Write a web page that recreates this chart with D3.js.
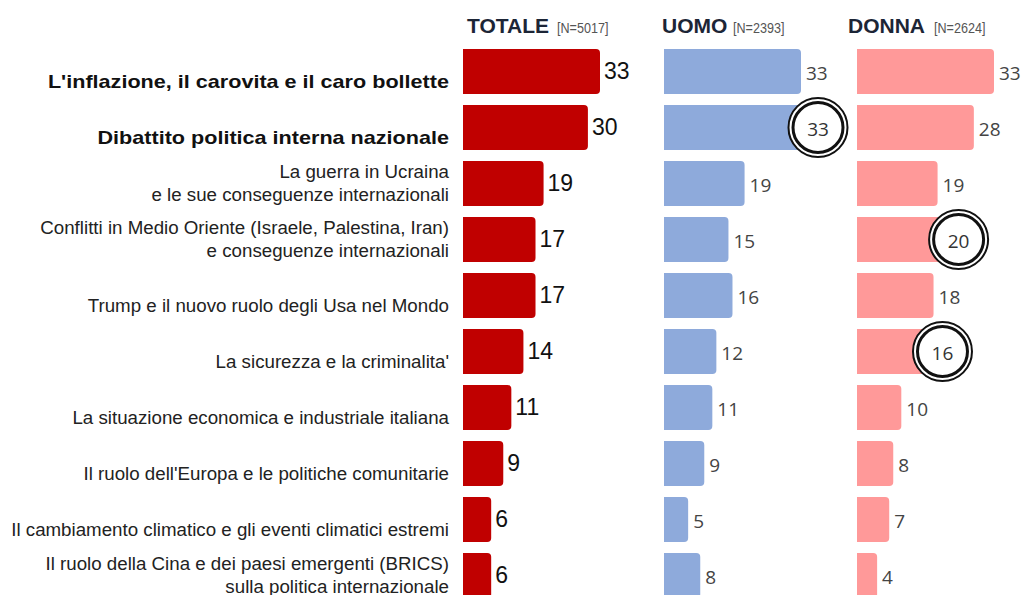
<!DOCTYPE html>
<html><head><meta charset="utf-8">
<script src="https://cdn.jsdelivr.net/npm/d3@7"></script>
<style>body{margin:0;background:#fff}svg{display:block}</style>
</head><body>
<svg id="c" width="1021" height="595"></svg>
<script>
const categories = [
  ["L'inflazione, il carovita e il caro bollette"],
  ["Dibattito politica interna nazionale"],
  ["La guerra in Ucraina", "e le sue conseguenze internazionali"],
  ["Conflitti in Medio Oriente (Israele, Palestina, Iran)", "e conseguenze internazionali"],
  ["Trump e il nuovo ruolo degli Usa nel Mondo"],
  ["La sicurezza e la criminalita'"],
  ["La situazione economica e industriale italiana"],
  ["Il ruolo dell'Europa e le politiche comunitarie"],
  ["Il cambiamento climatico e gli eventi climatici estremi"],
  ["Il ruolo della Cina e dei paesi emergenti (BRICS)", "sulla politica internazionale"]
];
const boldRows = [0, 1];
const totale = [33, 30, 19, 17, 17, 14, 11, 9, 6, 6];
const uomo   = [33, 33, 19, 15, 16, 12, 11, 9, 5, 8];
const donna  = [33, 28, 19, 20, 18, 16, 10, 8, 7, 4];
const headers = [
  {title: "TOTALE", n: "[N=5017]"},
  {title: "UOMO", n: "[N=2393]"},
  {title: "DONNA", n: "[N=2624]"}
];
const circled = {uomo: [1], donna: [3, 5]};

const svg = d3.select("#c");
const y = d3.scaleBand().domain(d3.range(categories.length)).range([49, 598]).paddingInner(11 / 56).paddingOuter(0);
const x = d3.scaleLinear().domain([0, 33]).range([4, 137]);

const series = [
  {key: "totale", vals: totale, x0: 463, color: "#c00000", hx: 467, nx: 557},
  {key: "uomo", vals: uomo, x0: 664, color: "#8eaadb", hx: 662, nx: 733},
  {key: "donna", vals: donna, x0: 857, color: "#ff9999", hx: 848, nx: 934}
];

function barPath(x0, y0, w, h, r) {
  r = Math.min(r, w);
  return `M${x0},${y0}H${x0 + w - r}Q${x0 + w},${y0} ${x0 + w},${y0 + r}V${y0 + h - r}Q${x0 + w},${y0 + h} ${x0 + w - r},${y0 + h}H${x0}Z`;
}

// headers
series.forEach((s, i) => {
  svg.append("text").attr("x", s.hx).attr("y", 33)
    .attr("font-family", "Liberation Sans, Arial, sans-serif").attr("font-weight", "bold")
    .attr("font-size", 21).attr("fill", "#1c2536").text(headers[i].title);
  svg.append("g").attr("transform", `translate(${s.nx},33) scale(0.9,1.08)`)
    .append("text").attr("x", 0).attr("y", 0)
    .attr("font-family", "Liberation Sans, Arial, sans-serif")
    .attr("font-size", 14).attr("fill", "#555").text(headers[i].n);
});

// category labels
categories.forEach((lines, i) => {
  const cy = y(i) + y.bandwidth() / 2;
  const bold = boldRows.includes(i);
  const g = svg.append("g").attr("transform", `translate(449,0) scale(${bold ? 1.2 : 1.07},1)`);
  const t = g.append("text").attr("text-anchor", "end")
    .attr("font-family", "Liberation Sans, Arial, sans-serif")
    .attr("font-size", bold ? 18 : 17.5)
    .attr("font-weight", bold ? "bold" : "normal")
    .attr("fill", bold ? "#111" : "#222");
  if (lines.length === 1) {
    t.append("tspan").attr("x", 0).attr("y", cy + 10).attr("dy", "0.35em").text(lines[0]);
  } else {
    lines.forEach((l, k) => {
      t.append("tspan").attr("x", 0).attr("y", cy - 11.5 + k * 23).attr("dy", "0.35em").text(l);
    });
  }
});

// bars and values
series.forEach(s => {
  const g = svg.append("g");
  s.vals.forEach((v, i) => {
    const y0 = y(i), h = y.bandwidth(), cy = y0 + h / 2;
    const w = x(v);
    g.append("path").attr("d", barPath(s.x0, y0, w, h, 4)).attr("fill", s.color);
    const isTot = s.key === "totale";
    const lx = s.x0 + w + (isTot ? 4 : 5);
    const lbl = String(v);
    const circ = (circled[s.key] || []).includes(i);
    if (circ) {
      const cx = lx + 12;
      g.append("circle").attr("cx", cx).attr("cy", cy).attr("r", 29.5)
        .attr("fill", "#fff").attr("stroke", "#111").attr("stroke-width", 2);
      g.append("circle").attr("cx", cx).attr("cy", cy).attr("r", 25)
        .attr("fill", "#fff").attr("stroke", "#111").attr("stroke-width", 3);
      g.append("text").attr("x", cx).attr("y", cy + 2).attr("dy", "0.35em")
        .attr("text-anchor", "middle")
        .attr("font-family", "Open Sans, sans-serif").attr("font-size", 19)
        .attr("fill", "#333").text(lbl);
    } else {
      g.append("text").attr("x", lx).attr("y", isTot ? cy - 1 : cy + 2).attr("dy", "0.35em")
        .attr("font-family", isTot ? "Liberation Sans, Arial, sans-serif" : "Open Sans, sans-serif")
        .attr("font-size", isTot ? 23 : 19)
        .attr("fill", isTot ? "#111" : "#444").text(lbl);
    }
  });
});
</script>
</body></html>
